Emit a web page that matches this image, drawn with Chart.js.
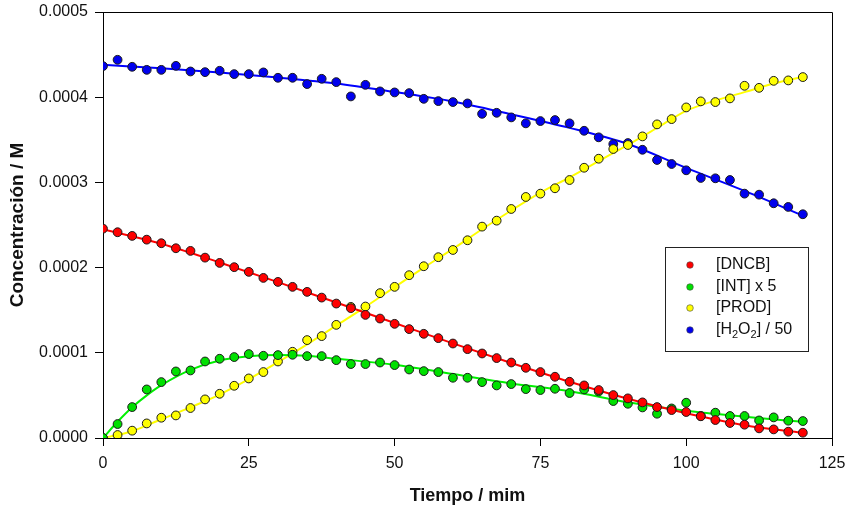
<!DOCTYPE html>
<html>
<head>
<meta charset="utf-8">
<script src="https://cdn.jsdelivr.net/npm/chart.js@4/dist/chart.umd.min.js"></script>
<style>
html,body{margin:0;padding:0;background:#fff;}
#wrap{width:846px;height:510px;position:relative;}
</style>
</head>
<body>
<div id="wrap"><canvas id="c" width="846" height="510"></canvas></div>
<script>
// ---- data (time in min, concentrations in M) ----
const tiempo = [0,2.5,5,7.5,10,12.5,15,17.5,20,22.5,25,27.5,30,32.5,35,37.5,40,42.5,45,47.5,50,52.5,55,57.5,60,62.5,65,67.5,70,72.5,75,77.5,80,82.5,85,87.5,90,92.5,95,97.5,100,102.5,105,107.5,110,112.5,115,117.5,120];

const dncb = [0.0002457,0.0002415,0.0002372,0.0002328,0.0002286,0.0002227,0.0002196,0.0002117,0.0002055,0.0002005,0.0001950,0.0001879,0.0001832,0.0001774,0.0001715,0.0001648,0.0001578,0.0001524,0.0001445,0.0001402,0.0001340,0.0001278,0.0001223,0.0001172,0.0001109,0.0001043,0.0000992,0.0000938,0.0000886,0.0000824,0.0000774,0.0000719,0.0000660,0.0000617,0.0000563,0.0000504,0.0000465,0.0000418,0.0000363,0.0000328,0.0000305,0.0000255,0.0000211,0.0000176,0.0000156,0.0000113,0.0000101,0.0000074,0.0000062];

const intx5 = [0,0.0000164,0.0000363,0.0000570,0.0000656,0.0000781,0.0000793,0.0000898,0.0000930,0.0000950,0.0000985,0.0000965,0.0000973,0.0000977,0.0000961,0.0000961,0.0000914,0.0000868,0.0000868,0.0000886,0.0000856,0.0000804,0.0000785,0.0000774,0.0000707,0.0000707,0.0000656,0.0000617,0.0000633,0.0000574,0.0000563,0.0000578,0.0000528,0.0000570,0.0000546,0.0000434,0.0000402,0.0000359,0.0000285,0.0000347,0.0000414,0.0000258,0.0000297,0.0000258,0.0000258,0.0000206,0.0000242,0.0000203,0.0000199];

const prod = [0,0.0000035,0.0000086,0.0000171,0.0000238,0.0000265,0.0000352,0.0000453,0.0000519,0.0000613,0.0000699,0.0000774,0.0000898,0.0001012,0.0001149,0.0001196,0.0001328,0.0001539,0.0001543,0.0001700,0.0001774,0.0001911,0.0002016,0.0002122,0.0002207,0.0002321,0.0002481,0.0002551,0.0002688,0.0002829,0.0002868,0.0002931,0.0003028,0.0003172,0.0003278,0.0003392,0.0003439,0.0003540,0.0003681,0.0003743,0.0003880,0.0003951,0.0003943,0.0003986,0.0004134,0.0004110,0.0004192,0.0004197,0.0004236];

const h2o2 = [0.0004365,0.0004439,0.0004357,0.0004321,0.0004321,0.0004368,0.0004302,0.0004294,0.0004310,0.0004271,0.0004271,0.0004291,0.0004228,0.0004228,0.0004154,0.0004216,0.0004177,0.0004009,0.0004145,0.0004068,0.0004056,0.0004048,0.0003981,0.0003954,0.0003943,0.0003927,0.0003805,0.0003817,0.0003763,0.0003693,0.0003720,0.0003732,0.0003693,0.0003606,0.0003529,0.0003450,0.0003462,0.0003383,0.0003263,0.0003216,0.0003142,0.0003052,0.0003048,0.0003028,0.0002868,0.0002856,0.0002755,0.0002712,0.0002626];

// fitted curves
const fitDncbT = [0,10,20,30,40,50,60,70,80,90,100,110,120];
const fitDncb  = [0.000245,0.000228,0.000206,0.000183,0.000159,0.000135,0.000111,0.000088,0.000066,0.000046,0.000029,0.000015,0.000006];
const fitIntT = [0,2.5,5,7.5,10,15,20,25,30,35,40,50,60,70,80,90,100,110,120];
const fitInt  = [0,0.000019,0.000036,0.000050,0.000062,0.000080,0.000091,0.000096,0.0000975,0.0000965,0.000093,0.000086,0.000075,0.000064,0.000055,0.000042,0.000032,0.000025,0.000019];
const fitProdT = [0,5,10,15,20,25,30,35,40,45,50,55,60,65,70,75,80,85,90,95,100,105,110,115,120];
const fitProd  = [0,0.000008,0.000022,0.000036,0.000051,0.000069,0.000089,0.000110,0.000132,0.000154,0.000177,0.000200,0.000222,0.000245,0.000267,0.000288,0.000306,0.000325,0.000344,0.000364,0.000384,0.000396,0.000406,0.000416,0.000424];
const fitH2o2T = [0,10,20,30,40,50,60,70,80,90,100,110,120];
const fitH2o2  = [0.000438,0.000434,0.000429,0.000423,0.000416,0.000406,0.000395,0.000380,0.000364,0.000345,0.000317,0.000290,0.000261];

const xTicks = [0,25,50,75,100,125];
const yTicks = [0,0.0001,0.0002,0.0003,0.0004,0.0005];
const legendLabels = ['[DNCB]','[INT] x 5','[PROD]','[H2O2] / 50'];
const pointColors = ['#ff0000','#00e000','#ffff00','#0000ee'];
const lineColors  = ['#ff0000','#00f000','#ffff00','#0000ff'];

function pts(xs, ys){ return xs.map((x,i)=>({x:x,y:ys[i]})); }

const pointSeries = [dncb,intx5,prod,h2o2];
const fitSeries = [[fitDncbT,fitDncb],[fitIntT,fitInt],[fitProdT,fitProd],[fitH2o2T,fitH2o2]];

const datasets = [];
pointSeries.forEach((s,i)=>{
  datasets.push({label:legendLabels[i], data:pts(tiempo,s), showLine:false,
    pointRadius:4.4, pointBackgroundColor:pointColors[i], pointBorderColor:'#1a1a1a', pointBorderWidth:1, order:1});
});
fitSeries.forEach((f,i)=>{
  datasets.push({label:'fit'+i, data:pts(f[0],f[1]), showLine:true, pointRadius:0,
    borderColor:lineColors[i], borderWidth:2, cubicInterpolationMode:'monotone', order:2});
});

const framePlugin = {
  id:'frame',
  afterDraw(chart){
    const ctx = chart.ctx, a = chart.chartArea;
    ctx.save();
    ctx.strokeStyle = '#000'; ctx.lineWidth = 1;
    ctx.beginPath();
    ctx.moveTo(Math.round(a.left)+0.5, Math.round(a.top)+0.5);
    ctx.lineTo(Math.round(a.right)+0.5, Math.round(a.top)+0.5);
    ctx.lineTo(Math.round(a.right)+0.5, Math.round(a.bottom)+0.5);
    ctx.stroke();
    // legend
    const bx=665.5, by=247.5, bw=143, bh=104;
    ctx.fillStyle='#fff'; ctx.fillRect(bx,by,bw,bh);
    ctx.strokeStyle='#222'; ctx.strokeRect(bx,by,bw,bh);
    const rows=[265,287,308,330];
    ctx.textBaseline='middle';
    rows.forEach((ry,i)=>{
      ctx.beginPath(); ctx.arc(690,ry,3.3,0,Math.PI*2);
      ctx.fillStyle=pointColors[i]; ctx.fill();
      ctx.strokeStyle='#444'; ctx.lineWidth=0.6; ctx.stroke();
      ctx.fillStyle='#111';
      ctx.font='16px "Liberation Sans", Arial, sans-serif';
      if(i<3){ ctx.fillText(legendLabels[i],716,ry); }
      else {
        let x=716;
        const parts=[['[H',0],['2',1],['O',0],['2',1],['] / 50',0]];
        parts.forEach(p=>{
          if(p[1]){ ctx.font='11px "Liberation Sans", Arial, sans-serif'; ctx.fillText(p[0],x,ry+5); }
          else { ctx.font='16px "Liberation Sans", Arial, sans-serif'; ctx.fillText(p[0],x,ry); }
          x+=ctx.measureText(p[0]).width;
        });
      }
    });
    ctx.restore();
  }
};

new Chart(document.getElementById('c'), {
  type:'scatter',
  data:{datasets:datasets},
  plugins:[framePlugin],
  options:{
    responsive:false, animation:false, devicePixelRatio:1,
    layout:{padding:{top:12,right:14,left:0,bottom:0}},
    plugins:{legend:{display:false}, tooltip:{enabled:false}},
    scales:{
      x:{type:'linear', min:0, max:125,
        afterBuildTicks(s){ s.ticks = xTicks.map(v=>({value:v})); },
        afterFit(s){ s.height = 72; s.paddingLeft = 0; s.paddingRight = 0; },
        grid:{display:true, drawOnChartArea:false, drawTicks:true, tickLength:8, color:'#000'},
        border:{display:true, color:'#000', width:1},
        ticks:{color:'#111', font:{family:'"Liberation Sans", Arial, sans-serif', size:16}, padding:8, maxRotation:0},
        title:{display:true, text:'Tiempo / mim', color:'#111', font:{family:'"Liberation Sans", Arial, sans-serif', size:18, weight:'bold'}, padding:{top:4,bottom:3}}
      },
      y:{type:'linear', min:0, max:0.0005,
        afterBuildTicks(s){ s.ticks = yTicks.map(v=>({value:v})); },
        afterFit(s){ s.width = 103; s.paddingTop = 0; s.paddingBottom = 0; },
        grid:{display:true, drawOnChartArea:false, drawTicks:true, tickLength:8, color:'#000'},
        border:{display:true, color:'#000', width:1},
        ticks:{color:'#111', font:{family:'"Liberation Sans", Arial, sans-serif', size:16}, padding:7, callback:v=>v.toFixed(4)},
        title:{display:true, text:'Concentración / M', color:'#111', font:{family:'"Liberation Sans", Arial, sans-serif', size:19, weight:'bold'}, padding:{top:6,bottom:4}}
      }
    }
  }
});
</script>
</body>
</html>
